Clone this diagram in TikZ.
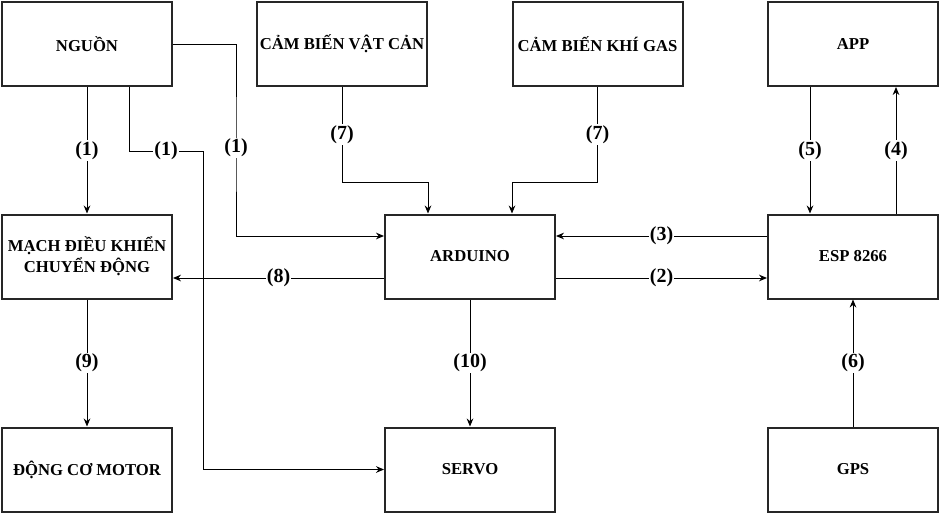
\documentclass[tikz,border=0pt]{standalone}
\usepackage{fontspec}
\setmainfont{Liberation Serif}
\usetikzlibrary{arrows.meta}
\begin{document}
\begin{tikzpicture}[x=0.75pt,y=-0.75pt]
                \useasboundingbox (0,0) rectangle (940,514);
                \begin{scope}[every node/.style={rectangle,draw=black!85,line width=1.5pt,
                    minimum width=127.5pt,minimum height=63pt,inner sep=0pt,align=center,font=\bfseries\fontsize{12.5}{16}\selectfont}]
                    \node (nguon) at (87,44) {NGUỒN};
                    \node (vatcan) at (342,44) {CẢM BIẾN VẬT CẢN};
                    \node (gas) at (597.5,44) {CẢM BIẾN KHÍ GAS};
                    \node (app) at (853,44) {APP};
                    \node (mach) at (87,256.5) {MẠCH ĐIỀU KHIỂN\\CHUYỂN ĐỘNG};
                    \node (arduino) at (470,256.5) {ARDUINO};
                    \node (esp) at (853,256.5) {ESP 8266};
                    \node (dongco) at (87,469.5) {ĐỘNG CƠ MOTOR};
                    \node (servo) at (470,469.5) {SERVO};
                    \node (gps) at (853,469.5) {GPS};
                \end{scope}
                \coordinate (k1) at (203,151);
                \coordinate (k2) at (236,148);
                \coordinate (k3) at (342,182);
                \coordinate (k4) at (597.5,182);
                \begin{scope}[>={Stealth[length=6pt,width=5pt]},line width=0.75pt,
                    every node/.style={fill=white,inner sep=1pt,font=\bfseries\fontsize{15}{17}\selectfont}]
                    \draw[->] (nguon) edge node{(1)} (mach);
                    \draw[->] ([xshift=31.5pt]nguon.south) |- node[pos=0.75]{(1)} (k1) |- (servo.west);
                    \draw[->] (nguon.east) -| (k2) node{(1)} |- ([yshift=15.375pt]arduino.west);
                    \draw[->] (vatcan.south) -- node{(7)} (k3) -| ([xshift=-31.5pt]arduino.north);
                    \draw[->] (gas.south) -- node{(7)} (k4) -| ([xshift=31.5pt]arduino.north);
                    \draw[->] ([xshift=-32.25pt]app.south) -- node{(5)} ([xshift=-32.25pt]esp.north);
                    \draw[->] ([xshift=32.25pt]esp.north) -- node{(4)} ([xshift=32.25pt]app.south);
                    \draw[->] ([yshift=15.375pt]esp.west) -- node{(3)} ([yshift=15.375pt]arduino.east);
                    \draw[->] ([yshift=-16.125pt]arduino.east) -- node{(2)} ([yshift=-16.125pt]esp.west);
                    \draw[->] ([yshift=-16.125pt]arduino.west) -- node{(8)} ([yshift=-16.125pt]mach.east);
                    \draw[->] (mach) edge node{(9)} (dongco);
                    \draw[->] (arduino) edge node{(10)} (servo);
                    \draw[->] (gps) edge node{(6)} (esp);
                \end{scope}
            \end{tikzpicture}
\end{document}
